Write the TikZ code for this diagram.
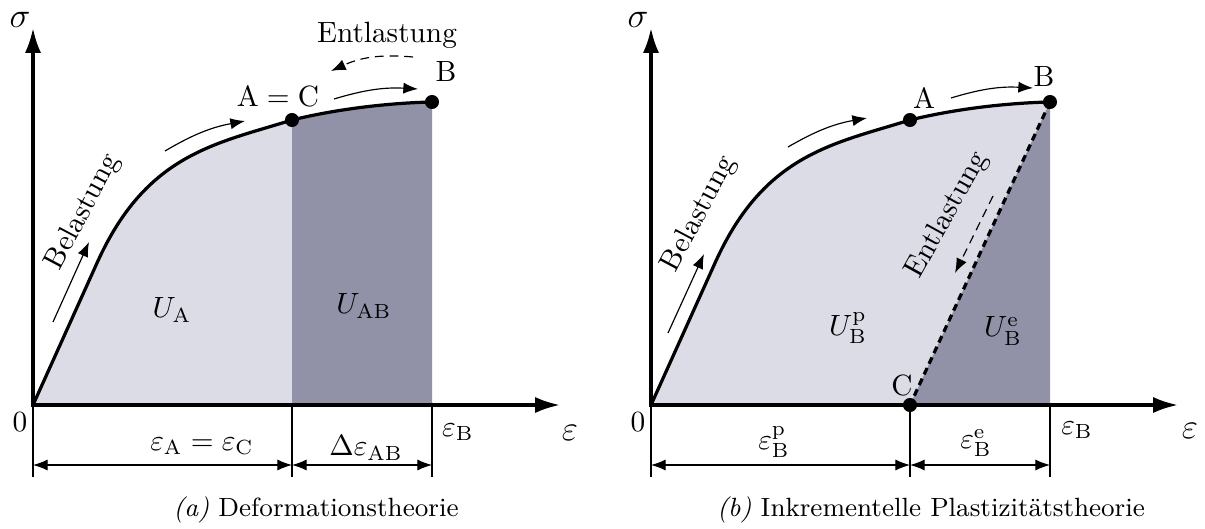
\documentclass[tikz,border=0pt]{standalone}
\usepackage{amsmath}
\usetikzlibrary{arrows.meta,positioning}
\definecolor{lightfill}{RGB}{220,220,231}
\definecolor{darkfill}{RGB}{145,145,168}

\begin{document}
\begin{tikzpicture}[x=0.012cm,y=0.012cm,>=Latex,
  axis/.style={line width=1.1pt,{Latex[length=8.5pt,width=5.5pt]}-{Latex[length=8.5pt,width=5.5pt]}},
  curve/.style={line width=1.1pt},
  dot/.style={circle,fill,inner sep=0pt,minimum size=4.8pt},
  hint/.style={thin,-{Latex[length=5pt,width=3.8pt]}},
  dim/.style={thin,{Latex[length=5pt,width=3.8pt]}-{Latex[length=5pt,width=3.8pt]}},
  tick/.style={thin},
  axlabel/.style={font=\large,inner sep=0pt}]
\useasboundingbox (-33,-123) rectangle (1172,405);

% (a) Deformationstheorie
\begin{scope}
\coordinate (aO) at (0,0);
\coordinate (aX) at (527,0);
\coordinate (aY) at (0,377);
\coordinate (aK) at (64,142);
\coordinate (aA) at (259,285);
\coordinate (aB) at (399,303);
\fill[lightfill] (aO) -- (aK) .. controls (113,251) and (182,261) .. (aA) -- (aA |- aO) -- cycle;
\fill[darkfill] (aA) .. controls (304,296) and (355,302) .. (aB) -- (aB |- aO) -- (aA |- aO) -- cycle;
\foreach \p in {aO,aA,aB}{\draw[tick] (\p |- aO) -- ++(0,-72);}
\draw[curve] (aO) -- (aK) .. controls (113,251) and (182,261) .. (aA) .. controls (304,296) and (355,302) .. (aB);
\draw[axis] (aY) -- (aO) -- (aX);
\node[dot] (aAdot) at (aA) {};
\node[dot] (aBdot) at (aB) {};
% dimensions
\coordinate (aD0) at (0,-60);
\coordinate (aD1) at (259,-60);
\coordinate (aD2) at (399,-60);
\draw[dim] (aD0) -- (aD1);
\draw[dim] (aD1) -- (aD2);
% hints
\coordinate (aL1) at (20,83);
\coordinate (aL2) at (56,163);
\coordinate (aL3) at (132,254);
\coordinate (aL4) at (212,284);
\coordinate (aL5) at (301,306);
\coordinate (aL6) at (385,316);
\coordinate (aU1) at (380,348);
\coordinate (aU2) at (298,334);
\draw[hint] (aL1) -- (aL2);
\draw[hint] (aL3) to[bend left=10] (aL4);
\draw[hint] (aL5) to[bend left=10] (aL6);
\draw[hint,densely dashed] (aU1) to[bend right=15] (aU2);
% labels
\node[axlabel] (asig) at (-13,385) {$\sigma$};
\node (anull) at (-13,-17) {$0$};
\node[axlabel] (aeps) at (537,-28) {$\varepsilon$};
\node (aepsB) at (425,-27) {$\varepsilon_\mathrm{B}$};
\node (adim1) at (169,-41) {$\varepsilon_\mathrm{A}=\varepsilon_\mathrm{C}$};
\node (adim2) at (333,-43) {$\Delta\varepsilon_\mathrm{AB}$};
\node (aUA) at (139,95) {$U_\mathrm{A}$};
\node (aUAB) at (331,99) {$U_\mathrm{AB}$};
\node (alabA) at (245,309) {$\mathrm{A}=\mathrm{C}$};
\node (alabB) at (413,334) {B};
\node (aent) at (354,370) {Entlastung};
\node[rotate=62] (abel) at (50,193) {Belastung};
\node[font=\small] (acap) at (283,-105) {\textit{(a)} Deformationstheorie};
\end{scope}

% (b) Inkrementelle Plastizitaetstheorie
\begin{scope}[shift={(618,0)}]
\coordinate (bO) at (0,0);
\coordinate (bX) at (527,0);
\coordinate (bY) at (0,377);
\coordinate (bK) at (64,142);
\coordinate (bA) at (259,285);
\coordinate (bB) at (399,303);
\coordinate (bC) at (259,0);
\fill[lightfill] (bO) -- (bK) .. controls (113,251) and (182,261) .. (bA) .. controls (304,296) and (355,302) .. (bB) -- (bC) -- cycle;
\fill[darkfill] (bC) -- (bB) -- (bB |- bO) -- cycle;
\foreach \p in {bO,bC,bB}{\draw[tick] (\p |- bO) -- ++(0,-72);}
\draw[curve] (bO) -- (bK) .. controls (113,251) and (182,261) .. (bA) .. controls (304,296) and (355,302) .. (bB);
\draw[curve,dash pattern=on 2.4pt off 1.6pt] (bB) -- (bC);
\draw[axis] (bY) -- (bO) -- (bX);
\node[dot] (bAdot) at (bA) {};
\node[dot] (bBdot) at (bB) {};
\node[dot] (bCdot) at (bC) {};
% dimensions
\coordinate (bD0) at (0,-60);
\coordinate (bD1) at (259,-60);
\coordinate (bD2) at (399,-60);
\draw[dim] (bD0) -- (bD1);
\draw[dim] (bD1) -- (bD2);
% hints
\coordinate (bL1) at (17,72);
\coordinate (bL2) at (53,151);
\coordinate (bL3) at (137,258);
\coordinate (bL4) at (216,287);
\coordinate (bL5) at (300,307);
\coordinate (bL6) at (382,317);
\coordinate (bU1) at (342,209);
\coordinate (bU2) at (304,132);
\draw[hint] (bL1) -- (bL2);
\draw[hint] (bL3) to[bend left=10] (bL4);
\draw[hint] (bL5) to[bend left=10] (bL6);
\draw[hint,densely dashed] (bU1) -- (bU2);
% labels
\node[axlabel] (bsig) at (-13,385) {$\sigma$};
\node (bnull) at (-13,-17) {$0$};
\node[axlabel] (beps) at (539,-26) {$\varepsilon$};
\node (bepsB) at (426,-25) {$\varepsilon_\mathrm{B}$};
\node (bdim1) at (123,-37) {$\varepsilon_\mathrm{B}^\mathrm{p}$};
\node (bdim2) at (325,-38) {$\varepsilon_\mathrm{B}^\mathrm{e}$};
\node (bUp) at (197,77) {$U_\mathrm{B}^\mathrm{p}$};
\node (bUe) at (352,74) {$U_\mathrm{B}^\mathrm{e}$};
\node (blabA) at (273,307) {A};
\node (blabB) at (393,329) {B};
\node (blabC) at (251,20) {C};
\node[rotate=61] (bent) at (296,190) {Entlastung};
\node[rotate=62] (bbel) at (48,191) {Belastung};
\node[font=\small] (bcap) at (280,-105) {\textit{(b)} Inkrementelle Plastizitätstheorie};
\end{scope}
\end{tikzpicture}
\end{document}
